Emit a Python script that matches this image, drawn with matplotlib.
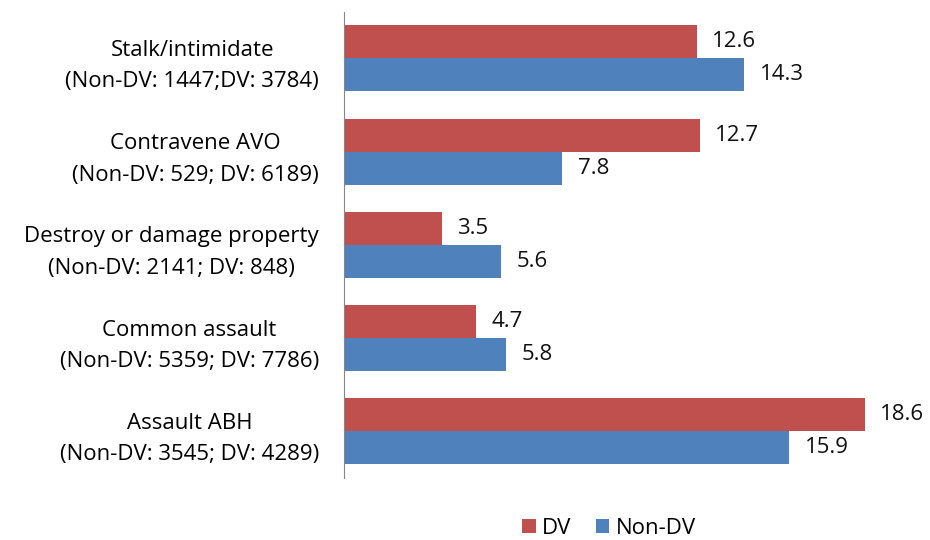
import numpy as np
import matplotlib
matplotlib.use("Agg")
import matplotlib.pyplot as plt

plt.rcParams['font.family'] = ['Open Sans', 'DejaVu Sans']

categories = [
    "Stalk/intimidate\n(Non-DV: 1447;DV: 3784)",
    "Contravene AVO\n(Non-DV: 529; DV: 6189)",
    "Destroy or damage property\n(Non-DV: 2141; DV: 848)",
    "Common assault\n(Non-DV: 5359; DV: 7786)",
    "Assault ABH\n(Non-DV: 3545; DV: 4289)",
]
dv = [12.6, 12.7, 3.5, 4.7, 18.6]
non_dv = [14.3, 7.8, 5.6, 5.8, 15.9]

red = "#C0504D"
blue = "#4F81BD"
fs = 16

fig = plt.figure(figsize=(9.3, 5.4), dpi=100)
ax = fig.add_axes([0.37, 0.115, 0.602, 0.863])

y = np.arange(len(categories))
h = 0.354
b1 = ax.barh(y - h / 2, dv, height=h, color=red, label="DV")
b2 = ax.barh(y + h / 2, non_dv, height=h, color=blue, label="Non-DV")

for bars, vals in [(b1, dv), (b2, non_dv)]:
    for bar, v in zip(bars, vals):
        ax.text(v + 0.55, bar.get_y() + bar.get_height() / 2, f"{v:.1f}",
                va="center", ha="left", fontsize=fs, color="#111111")

ax.set_ylim(len(categories) - 0.5, -0.5)
ax.set_xlim(0, 20)
ax.set_yticks(y)
ax.set_yticklabels(categories, fontsize=fs, ha="right", multialignment="center",
                   linespacing=1.65)
ax.tick_params(axis="y", length=0, pad=18)
ax.set_xticks([])
for s in ["top", "right", "bottom"]:
    ax.spines[s].set_visible(False)
ax.spines["left"].set_color("#868686")

fig.legend(handles=[b1, b2], loc="lower center", bbox_to_anchor=(0.655, -0.035),
           ncol=2, frameon=False, fontsize=fs, handlelength=0.6,
           handleheight=0.6, handletextpad=0.3, columnspacing=1.1)

fig.savefig("out.png", dpi=100)
